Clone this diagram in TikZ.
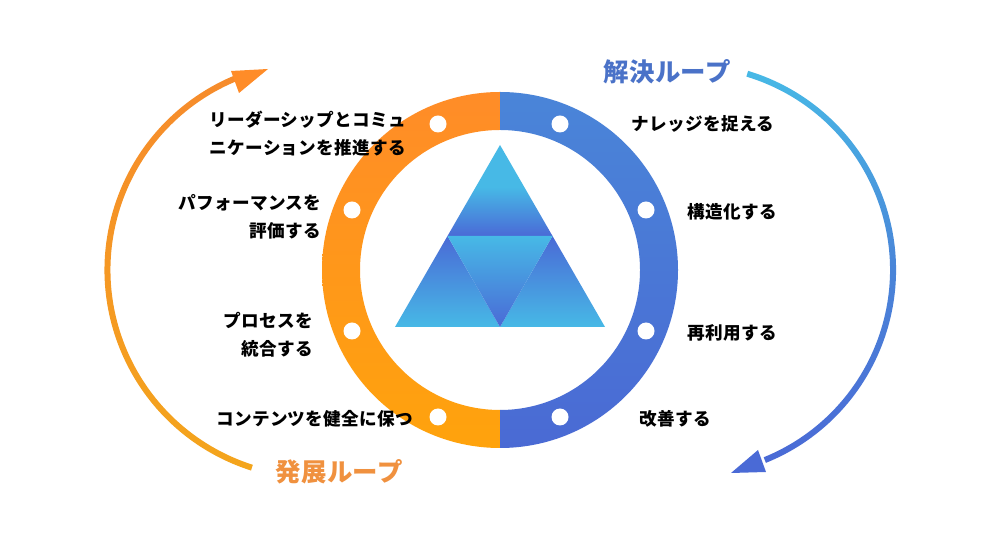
\documentclass[tikz,border=0pt]{standalone}
\usepackage{fontspec}
\setmainfont{Noto Sans CJK JP}[LetterSpace=2]
\newfontfamily\titlefont{Noto Sans CJK JP}[LetterSpace=1.5]
\definecolor{orTop}{HTML}{FF8C28}
\definecolor{orBot}{HTML}{FFA30C}
\definecolor{blTop}{HTML}{4A85D8}
\definecolor{blBot}{HTML}{4A6AD4}
\definecolor{cy}{HTML}{47B9E6}
\definecolor{bl}{HTML}{4A6AD6}
\definecolor{laOrTop}{HTML}{F68B2C}
\definecolor{laOrBot}{HTML}{F4A51C}
\definecolor{tOr}{HTML}{F0913F}
\definecolor{tBl}{HTML}{4A72C8}
\pgfdeclareverticalshading{triTop}{100bp}{color(0bp)=(bl);color(25bp)=(bl);color(52bp)=(cy);color(75bp)=(cy);color(100bp)=(cy)}
\pgfdeclareverticalshading{arcBlue}{100bp}{color(0bp)=(bl);color(25bp)=(bl);color(50bp)=(blTop);color(75bp)=(cy);color(100bp)=(cy)}
\tikzset{
  x=1pt,y=1pt,
  label/.style={font=\bfseries\fontsize{17.6}{28}\selectfont,text=black,inner sep=0pt},
  rlabel/.style={label,align=right,anchor=east},
  looptitle/.style={font=\titlefont\bfseries\fontsize{25.4}{28}\selectfont,inner sep=0pt},
  holedot/.style={circle,fill=white,draw=none,minimum size=17pt,inner sep=0pt},
}
\begin{document}
\begin{tikzpicture}
\useasboundingbox (0,0) rectangle (1000,540);
\fill[white] (0,0) rectangle (1000,540);
\coordinate (c) at (500,270);
\coordinate (lc) at (315,270);
\coordinate (rc) at (688,270);
% left loop
\shade[top color=laOrTop,bottom color=laOrBot]
  ([shift={(lc)}]252.3:210.5) arc[start angle=252.3,end angle=111.8,radius=210.5]
  -- ([shift={(lc)}]111.8:204.5) arc[start angle=111.8,end angle=252.3,radius=204.5] -- cycle;
\fill[orTop] (268,471) -- (231,469) -- (239,447) -- cycle;
% right loop
\shade[shading=arcBlue]
  ([shift={(rc)}]73.2:202) arc[start angle=73.2,end angle=-68,radius=202]
  -- ([shift={(rc)}]-68:208) arc[start angle=-68,end angle=73.2,radius=208] -- cycle;
\fill[bl] (731,67) -- (758,90) -- (766,68) -- cycle;
% ring
\shade[top color=orTop,bottom color=orBot]
  (500,448) arc[start angle=90,end angle=270,radius=178] -- (500,130)
  arc[start angle=270,end angle=90,radius=140] -- cycle;
\shade[top color=blTop,bottom color=blBot]
  (500,448) arc[start angle=90,end angle=-90,radius=178] -- (500,130)
  arc[start angle=-90,end angle=90,radius=140] -- cycle;
% dots
\node[holedot] (d1) at (438,416) {};
\node[holedot] (d2) at (352,330) {};
\node[holedot] (d3) at (352,209) {};
\node[holedot] (d4) at (438,123) {};
\node[holedot] (d5) at (560,416) {};
\node[holedot] (d6) at (646,330) {};
\node[holedot] (d7) at (646,209) {};
\node[holedot] (d8) at (560,123) {};
% triangle
\coordinate (tA) at (500,395);
\coordinate (tL) at (447.5,304);
\coordinate (tR) at (552.5,304);
\coordinate (bL) at (395,213);
\coordinate (bM) at (500,213);
\coordinate (bR) at (605,213);
\shade[shading=triTop] (tA) -- (tL) -- (tR) -- cycle;
\shade[top color=bl,bottom color=cy] (tL) -- (bL) -- (bM) -- cycle;
\shade[top color=bl,bottom color=cy] (tR) -- (bR) -- (bM) -- cycle;
\shade[top color=cy,bottom color=bl] (tL) -- (tR) -- (bM) -- cycle;
% labels
\node[rlabel] (l1) at (406.5,406) {リーダーシップとコミュ\\ニケーションを推進する};
\node[rlabel] (l2) at (321.5,323) {パフォーマンスを\\評価する};
\node[rlabel] (l3) at (313,205) {プロセスを\\統合する};
\node[rlabel] (l4) at (413.5,121) {コンテンツを健全に保つ};
\node[label] (r1) at (703,416) {ナレッジを捉える};
\node[label] (r2) at (732.5,328) {構造化する};
\node[label] (r3) at (732.5,207) {再利用する};
\node[label] (r4) at (675,121) {改善する};
\node[looptitle,text=tBl] (t1) at (667,468) {解決ループ};
\node[looptitle,text=tOr] (t2) at (339,68) {発展ループ};
\end{tikzpicture}
\end{document}
